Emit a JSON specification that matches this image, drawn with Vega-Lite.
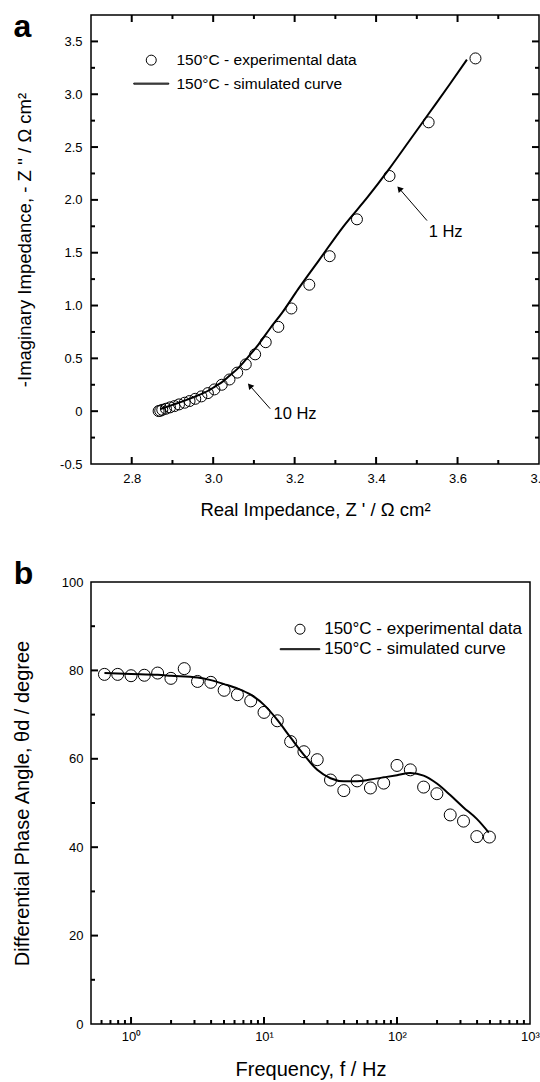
{
  "$schema": "https://vega.github.io/schema/vega-lite/v6.json",
  "background": "white",
  "padding": {"left": 11, "top": 9, "right": 0, "bottom": 0},
  "config": {
    "font": "Liberation Sans",
    "view": {"stroke": "black", "strokeWidth": 1.5}
  },
  "datasets": {
    "nyq_exp": [
      {"zr": 2.866, "zi": 0.001}, {"zr": 2.870, "zi": 0.004}, {"zr": 2.875, "zi": 0.013}, {"zr": 2.884, "zi": 0.023},
      {"zr": 2.894, "zi": 0.036}, {"zr": 2.905, "zi": 0.048}, {"zr": 2.916, "zi": 0.064}, {"zr": 2.930, "zi": 0.080},
      {"zr": 2.942, "zi": 0.096}, {"zr": 2.956, "zi": 0.117}, {"zr": 2.971, "zi": 0.140}, {"zr": 2.987, "zi": 0.171},
      {"zr": 3.003, "zi": 0.206}, {"zr": 3.021, "zi": 0.250}, {"zr": 3.040, "zi": 0.300}, {"zr": 3.059, "zi": 0.365},
      {"zr": 3.080, "zi": 0.443}, {"zr": 3.103, "zi": 0.538}, {"zr": 3.129, "zi": 0.653}, {"zr": 3.160, "zi": 0.798},
      {"zr": 3.192, "zi": 0.972}, {"zr": 3.236, "zi": 1.197}, {"zr": 3.286, "zi": 1.467}, {"zr": 3.353, "zi": 1.816},
      {"zr": 3.433, "zi": 2.226}, {"zr": 3.529, "zi": 2.734}, {"zr": 3.644, "zi": 3.339}
    ],
    "nyq_sim": [
      {"zr": 2.870, "zi": 0.020}, {"zr": 2.900, "zi": 0.060}, {"zr": 2.930, "zi": 0.100}, {"zr": 2.960, "zi": 0.145},
      {"zr": 2.990, "zi": 0.198}, {"zr": 3.005, "zi": 0.235}, {"zr": 3.020, "zi": 0.270}, {"zr": 3.040, "zi": 0.335},
      {"zr": 3.062, "zi": 0.410}, {"zr": 3.085, "zi": 0.510}, {"zr": 3.111, "zi": 0.630}, {"zr": 3.140, "zi": 0.785},
      {"zr": 3.169, "zi": 0.930}, {"zr": 3.209, "zi": 1.157}, {"zr": 3.260, "zi": 1.430}, {"zr": 3.320, "zi": 1.750},
      {"zr": 3.380, "zi": 2.030}, {"zr": 3.429, "zi": 2.277}, {"zr": 3.480, "zi": 2.550}, {"zr": 3.530, "zi": 2.820},
      {"zr": 3.580, "zi": 3.090}, {"zr": 3.623, "zi": 3.327}
    ],
    "ann": [
      {"label": "1 Hz", "tx": 3.529, "ty": 1.694, "x0": 3.525, "y0": 1.804, "hx": 3.457, "hy": 2.107},
      {"label": "10 Hz", "tx": 3.148, "ty": -0.025, "x0": 3.140, "y0": 0.023, "hx": 3.090, "hy": 0.241}
    ],
    "bode_exp": [
      {"f": 0.631, "theta": 79.1}, {"f": 0.794, "theta": 79.1}, {"f": 1.0, "theta": 78.8}, {"f": 1.259, "theta": 78.9},
      {"f": 1.585, "theta": 79.4}, {"f": 1.995, "theta": 78.2}, {"f": 2.512, "theta": 80.4}, {"f": 3.162, "theta": 77.5},
      {"f": 3.981, "theta": 77.3}, {"f": 5.012, "theta": 75.5}, {"f": 6.31, "theta": 74.5}, {"f": 7.943, "theta": 73.1},
      {"f": 10.0, "theta": 70.5}, {"f": 12.59, "theta": 68.6}, {"f": 15.85, "theta": 63.9}, {"f": 19.95, "theta": 61.6},
      {"f": 25.12, "theta": 59.8}, {"f": 31.62, "theta": 55.2}, {"f": 39.81, "theta": 52.8}, {"f": 50.12, "theta": 55.0},
      {"f": 63.1, "theta": 53.4}, {"f": 79.43, "theta": 54.5}, {"f": 100, "theta": 58.5}, {"f": 125.9, "theta": 57.5},
      {"f": 158.5, "theta": 53.6}, {"f": 199.5, "theta": 52.1}, {"f": 251.2, "theta": 47.3}, {"f": 316.2, "theta": 45.9},
      {"f": 398.1, "theta": 42.4}, {"f": 495, "theta": 42.3}
    ],
    "bode_sim": [
      {"f": 0.631, "theta": 79.4}, {"f": 1.0, "theta": 79.2}, {"f": 1.585, "theta": 79.0}, {"f": 2.0, "theta": 78.8},
      {"f": 3.162, "theta": 78.4}, {"f": 3.981, "theta": 77.8}, {"f": 5.012, "theta": 76.9}, {"f": 6.31, "theta": 75.9},
      {"f": 7.943, "theta": 74.5}, {"f": 10.0, "theta": 72.2}, {"f": 12.59, "theta": 68.8}, {"f": 15.85, "theta": 64.8},
      {"f": 19.95, "theta": 60.9}, {"f": 25.12, "theta": 57.5}, {"f": 31.62, "theta": 55.6}, {"f": 39.81, "theta": 54.9},
      {"f": 50.12, "theta": 54.9}, {"f": 63.1, "theta": 55.3}, {"f": 79.43, "theta": 55.8}, {"f": 100, "theta": 56.3},
      {"f": 125.9, "theta": 56.8}, {"f": 158.5, "theta": 56.2}, {"f": 199.5, "theta": 54.4}, {"f": 251.2, "theta": 51.8},
      {"f": 316.2, "theta": 49.0}, {"f": 398.1, "theta": 46.4}, {"f": 490, "theta": 43.3}
    ],
    "panel_a": [{"panel": "a"}],
    "panel_b": [{"panel": "b"}],
    "ta_xmaj": [{"v": 2.8}, {"v": 3.0}, {"v": 3.2}, {"v": 3.4}, {"v": 3.6}],
    "ta_xmin": [{"v": 2.9}, {"v": 3.1}, {"v": 3.3}, {"v": 3.5}, {"v": 3.7}],
    "ta_ymaj": [{"v": 0}, {"v": 0.5}, {"v": 1.0}, {"v": 1.5}, {"v": 2.0}, {"v": 2.5}, {"v": 3.0}, {"v": 3.5}],
    "ta_ymin": [{"v": -0.25}, {"v": 0.25}, {"v": 0.75}, {"v": 1.25}, {"v": 1.75}, {"v": 2.25}, {"v": 2.75}, {"v": 3.25}],
    "tb_xmaj": [{"v": 1}, {"v": 10}, {"v": 100}],
    "tb_xmin": [{"v": 0.6}, {"v": 0.7}, {"v": 0.8}, {"v": 0.9}, {"v": 2}, {"v": 3}, {"v": 4}, {"v": 5}, {"v": 6}, {"v": 7}, {"v": 8}, {"v": 9},
      {"v": 20}, {"v": 30}, {"v": 40}, {"v": 50}, {"v": 60}, {"v": 70}, {"v": 80}, {"v": 90},
      {"v": 200}, {"v": 300}, {"v": 400}, {"v": 500}, {"v": 600}, {"v": 700}, {"v": 800}, {"v": 900}],
    "tb_ymaj": [{"v": 20}, {"v": 40}, {"v": 60}, {"v": 80}],
    "tb_ymin": [{"v": 10}, {"v": 30}, {"v": 50}, {"v": 70}, {"v": 90}]
  },
  "spacing": 37,
  "resolve": {"scale": {"shape": "independent"}, "legend": {"shape": "independent"}},
  "vconcat": [
    {
      "width": 448,
      "height": 449,
      "resolve": {"axis": {"x": "independent", "y": "independent"}},
      "layer": [
        {
          "data": {"name": "nyq_sim"},
          "mark": {"type": "line", "color": "black", "strokeWidth": 2, "interpolate": "monotone"},
          "encoding": {
            "x": {"field": "zr", "type": "quantitative", "scale": {"domain": [2.7, 3.8], "nice": false, "zero": false},
              "axis": {"orient": "bottom", "values": [2.8, 3.0, 3.2, 3.4, 3.6, 3.8], "format": ".1f", "grid": false, "domain": false, "ticks": false,
                "labelPadding": 8.5, "labelFontSize": 13, "labelColor": "black", "labelFlush": false, "labelOverlap": false,
                "title": "Real Impedance, Z ' / Ω  cm²", "titleFontSize": 18.5, "titleFontWeight": "normal", "titleColor": "black", "titlePadding": 15}},
            "y": {"field": "zi", "type": "quantitative", "scale": {"domain": [-0.5, 3.75], "nice": false, "zero": false},
              "axis": {"orient": "left", "values": [-0.5, 0, 0.5, 1, 1.5, 2, 2.5, 3, 3.5], "grid": false, "domain": false, "ticks": false,
                "labelExpr": "datum.value == 0 ? '0' : replace(format(datum.value, '.1f'), '−', '-')",
                "labelPadding": 9, "labelFontSize": 13, "labelColor": "black", "labelFlush": false, "labelOverlap": false,
                "title": "-Imaginary Impedance, - Z '' / Ω  cm²", "titleFontSize": 18.5, "titleFontWeight": "normal", "titleColor": "black", "titlePadding": 25.5}}
          }
        },
        {
          "data": {"name": "nyq_exp"},
          "mark": {"type": "point", "filled": false, "color": "black", "size": 121, "strokeWidth": 1, "opacity": 1},
          "encoding": {
            "x": {"field": "zr", "type": "quantitative", "axis": null},
            "y": {"field": "zi", "type": "quantitative", "axis": null},
            "shape": {"datum": "150°C - experimental data", "type": "nominal",
              "scale": {"domain": ["150°C - experimental data", "150°C - simulated curve"], "range": ["circle", "M-3.5,-0.1H3.5V0.1H-3.5Z"]},
              "legend": {"orient": "none", "legendX": 52.5, "legendY": 37.4, "title": null, "padding": 0, "labelFontSize": 15.5, "labelOffset": 17.5, "rowPadding": 6.5, "labelLimit": 400, "labelColor": "black", "labelFont": "Liberation Sans",
                "symbolSize": 100, "symbolStrokeColor": "black", "symbolFillColor": "transparent", "symbolStrokeWidth": 1}}
          }
        },
        {
          "data": {"name": "ann"},
          "mark": {"type": "rule", "color": "black", "strokeWidth": 1},
          "encoding": {
            "x": {"field": "x0", "type": "quantitative", "axis": null},
            "y": {"field": "y0", "type": "quantitative", "axis": null},
            "x2": {"field": "hx"},
            "y2": {"field": "hy"}
          }
        },
        {
          "data": {"name": "ann"},
          "mark": {"type": "point", "shape": "triangle-up", "filled": true, "color": "black", "size": 45, "angle": 319, "opacity": 1},
          "encoding": {
            "x": {"field": "hx", "type": "quantitative", "axis": null},
            "y": {"field": "hy", "type": "quantitative", "axis": null}
          }
        },
        {
          "data": {"name": "ann"},
          "mark": {"type": "text", "align": "left", "baseline": "middle", "fontSize": 16.5, "color": "black"},
          "encoding": {
            "x": {"field": "tx", "type": "quantitative", "axis": null},
            "y": {"field": "ty", "type": "quantitative", "axis": null},
            "text": {"field": "label"}
          }
        },
        {
          "data": {"name": "panel_a"},
          "mark": {"type": "text", "align": "left", "baseline": "alphabetic", "fontSize": 32, "fontWeight": "bold", "color": "black"},
          "encoding": {
            "x": {"datum": 2.51, "type": "quantitative", "axis": null},
            "y": {"datum": 3.545, "type": "quantitative", "axis": null},
            "text": {"field": "panel"}
          }
        },
        {
          "data": {"name": "ta_xmaj"},
          "mark": {"type": "rule", "color": "black", "strokeWidth": 2},
          "encoding": {"x": {"field": "v", "type": "quantitative", "axis": null}, "y": {"datum": -0.5, "type": "quantitative", "axis": null}, "y2": {"datum": -0.4337}}
        },
        {
          "data": {"name": "ta_xmin"},
          "mark": {"type": "rule", "color": "black", "strokeWidth": 2},
          "encoding": {"x": {"field": "v", "type": "quantitative", "axis": null}, "y": {"datum": -0.5, "type": "quantitative", "axis": null}, "y2": {"datum": -0.4621}}
        },
        {
          "data": {"name": "ta_xmaj"},
          "mark": {"type": "rule", "color": "black", "strokeWidth": 2},
          "encoding": {"x": {"field": "v", "type": "quantitative", "axis": null}, "y": {"datum": 3.75, "type": "quantitative", "axis": null}, "y2": {"datum": 3.6837}}
        },
        {
          "data": {"name": "ta_xmin"},
          "mark": {"type": "rule", "color": "black", "strokeWidth": 2},
          "encoding": {"x": {"field": "v", "type": "quantitative", "axis": null}, "y": {"datum": 3.75, "type": "quantitative", "axis": null}, "y2": {"datum": 3.7121}}
        },
        {
          "data": {"name": "ta_ymaj"},
          "mark": {"type": "rule", "color": "black", "strokeWidth": 2},
          "encoding": {"y": {"field": "v", "type": "quantitative", "axis": null}, "x": {"datum": 2.7, "type": "quantitative", "axis": null}, "x2": {"datum": 2.7172}}
        },
        {
          "data": {"name": "ta_ymin"},
          "mark": {"type": "rule", "color": "black", "strokeWidth": 2},
          "encoding": {"y": {"field": "v", "type": "quantitative", "axis": null}, "x": {"datum": 2.7, "type": "quantitative", "axis": null}, "x2": {"datum": 2.7098}}
        },
        {
          "data": {"name": "ta_ymaj"},
          "mark": {"type": "rule", "color": "black", "strokeWidth": 2},
          "encoding": {"y": {"field": "v", "type": "quantitative", "axis": null}, "x": {"datum": 3.8, "type": "quantitative", "axis": null}, "x2": {"datum": 3.7828}}
        },
        {
          "data": {"name": "ta_ymin"},
          "mark": {"type": "rule", "color": "black", "strokeWidth": 2},
          "encoding": {"y": {"field": "v", "type": "quantitative", "axis": null}, "x": {"datum": 3.8, "type": "quantitative", "axis": null}, "x2": {"datum": 3.7902}}
        }
      ]
    },
    {
      "width": 439,
      "height": 442,
      "resolve": {"axis": {"x": "independent", "y": "independent"}},
      "layer": [
        {
          "data": {"name": "bode_sim"},
          "mark": {"type": "line", "color": "black", "strokeWidth": 2, "interpolate": "monotone"},
          "encoding": {
            "x": {"field": "f", "type": "quantitative", "scale": {"type": "log", "domain": [0.5, 1000], "nice": false},
              "axis": {"orient": "bottom", "values": [1, 10, 100, 1000], "grid": false, "domain": false, "ticks": false,
                "labelExpr": "datum.value == 1 ? '10⁰' : datum.value == 10 ? '10¹' : datum.value == 100 ? '10²' : '10³'",
                "labelPadding": 6, "labelFontSize": 13, "labelColor": "black", "labelFlush": false, "labelOverlap": false,
                "title": "Frequency, f / Hz", "titleFontSize": 20, "titleFontWeight": "normal", "titleColor": "black", "titlePadding": 16}},
            "y": {"field": "theta", "type": "quantitative", "scale": {"domain": [0, 100], "nice": false, "zero": false},
              "axis": {"orient": "left", "values": [0, 20, 40, 60, 80, 100], "grid": false, "domain": false, "ticks": false,
                "labelPadding": 8, "labelFontSize": 13, "labelColor": "black", "labelFlush": false, "labelOverlap": false,
                "title": "Differential Phase Angle, θd / degree", "titleFontSize": 20, "titleFontWeight": "normal", "titleColor": "black", "titlePadding": 29}}
          }
        },
        {
          "data": {"name": "bode_exp"},
          "mark": {"type": "point", "filled": false, "color": "black", "size": 144, "strokeWidth": 1, "opacity": 1},
          "encoding": {
            "x": {"field": "f", "type": "quantitative", "axis": null},
            "y": {"field": "theta", "type": "quantitative", "axis": null},
            "shape": {"datum": "150°C - experimental data", "type": "nominal",
              "scale": {"domain": ["150°C - experimental data", "150°C - simulated curve"], "range": ["circle", "M-3.96,-0.1H3.96V0.1H-3.96Z"]},
              "legend": {"orient": "none", "legendX": 200.5, "legendY": 38.7, "title": null, "padding": 0, "labelFontSize": 17, "labelOffset": 15.7, "rowPadding": 2, "labelLimit": 400, "labelColor": "black", "labelFont": "Liberation Sans",
                "symbolSize": 100, "symbolStrokeColor": "black", "symbolFillColor": "transparent", "symbolStrokeWidth": 1}}
          }
        },
        {
          "data": {"name": "panel_b"},
          "mark": {"type": "text", "align": "left", "baseline": "alphabetic", "fontSize": 32, "fontWeight": "bold", "color": "black"},
          "encoding": {
            "x": {"datum": 0.131, "type": "quantitative", "axis": null},
            "y": {"datum": 99.46, "type": "quantitative", "axis": null},
            "text": {"field": "panel"}
          }
        },
        {
          "data": {"name": "tb_xmaj"},
          "mark": {"type": "rule", "color": "black", "strokeWidth": 2},
          "encoding": {"x": {"field": "v", "type": "quantitative", "axis": null}, "y": {"datum": 0, "type": "quantitative", "axis": null}, "y2": {"datum": 1.584}}
        },
        {
          "data": {"name": "tb_xmin"},
          "mark": {"type": "rule", "color": "black", "strokeWidth": 2},
          "encoding": {"x": {"field": "v", "type": "quantitative", "axis": null}, "y": {"datum": 0, "type": "quantitative", "axis": null}, "y2": {"datum": 0.905}}
        },
        {
          "data": {"name": "tb_ymaj"},
          "mark": {"type": "rule", "color": "black", "strokeWidth": 2},
          "encoding": {"y": {"field": "v", "type": "quantitative", "axis": null}, "x": {"datum": 0.5, "type": "quantitative", "axis": null}, "x2": {"datum": 0.5645}}
        },
        {
          "data": {"name": "tb_ymin"},
          "mark": {"type": "rule", "color": "black", "strokeWidth": 2},
          "encoding": {"y": {"field": "v", "type": "quantitative", "axis": null}, "x": {"datum": 0.5, "type": "quantitative", "axis": null}, "x2": {"datum": 0.5359}}
        }
      ]
    }
  ]
}
